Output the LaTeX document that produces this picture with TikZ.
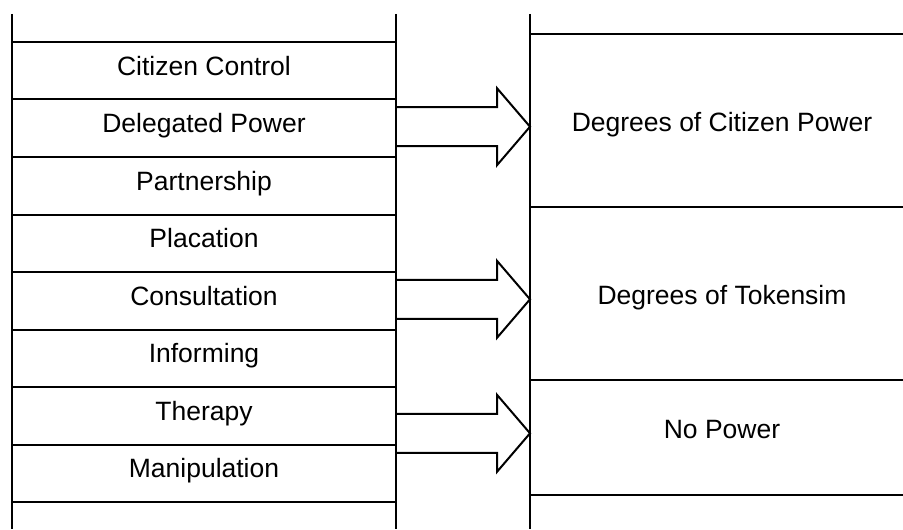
\documentclass[tikz,border=0pt]{standalone}
\usepackage{fontspec}
\setmainfont{Liberation Sans}
\usetikzlibrary{positioning}

\begin{document}
\begin{tikzpicture}[
  x=0.5pt,y=-0.5pt,line width=1pt,
  rung/.style={draw,minimum width=192pt,minimum height=28.75pt,inner sep=0pt,outer sep=0pt,
    font=\fontsize{13.25}{15}\selectfont,text height=0.72em,text depth=0.25em},
  level/.style={inner sep=0pt,font=\fontsize{13.25}{15}\selectfont,text height=0.72em,text depth=0.25em},
  blockarrow/.style={draw,line join=miter}
]
  \useasboundingbox (0,0) rectangle (903,529);
  % ladder
  \coordinate (ltop) at (396,14);
  \coordinate (rtop) at (530,14);
  \draw (12,14) -- (12,529);
  \draw (ltop) -- (396,529);
  \node[rung] (control) at (204,70.75) {Citizen Control};
  \node[rung,below=0pt of control] (delegated) {Delegated Power};
  \node[rung,below=0pt of delegated] (partner) {Partnership};
  \node[rung,below=0pt of partner] (placation) {Placation};
  \node[rung,below=0pt of placation] (consult) {Consultation};
  \node[rung,below=0pt of consult] (inform) {Informing};
  \node[rung,below=0pt of inform] (therapy) {Therapy};
  \node[rung,below=0pt of therapy] (manip) {Manipulation};
  % levels
  \draw (rtop) -- (530,529);
  \draw (530,34) -- (903,34);
  \draw (530,207) -- (903,207);
  \draw (530,380) -- (903,380);
  \draw (530,495) -- (903,495);
  \node[level] (citizenpower) at (722,126.7) {Degrees of Citizen Power};
  \node[level] (tokenism) at (722,299.3) {Degrees of Tokensim};
  \node[level] (nopower) at (722,433.3) {No Power};
  % arrows
  \coordinate (a1s) at (ltop |- citizenpower);
  \coordinate (a1e) at (rtop |- citizenpower);
  \coordinate (a2s) at (ltop |- tokenism);
  \coordinate (a2e) at (rtop |- tokenism);
  \coordinate (a3s) at (ltop |- nopower);
  \coordinate (a3e) at (rtop |- nopower);
  \draw[blockarrow] (a1s) ++(0,-19.5) -- ++(101,0) -- ++(0,-19) -- (a1e) -- ++(-33,38.5) -- ++(0,-19) -- ++(-101,0);
  \draw[blockarrow] (a2s) ++(0,-19.5) -- ++(101,0) -- ++(0,-19) -- (a2e) -- ++(-33,38.5) -- ++(0,-19) -- ++(-101,0);
  \draw[blockarrow] (a3s) ++(0,-19.5) -- ++(101,0) -- ++(0,-19) -- (a3e) -- ++(-33,38.5) -- ++(0,-19) -- ++(-101,0);
\end{tikzpicture}
\end{document}
